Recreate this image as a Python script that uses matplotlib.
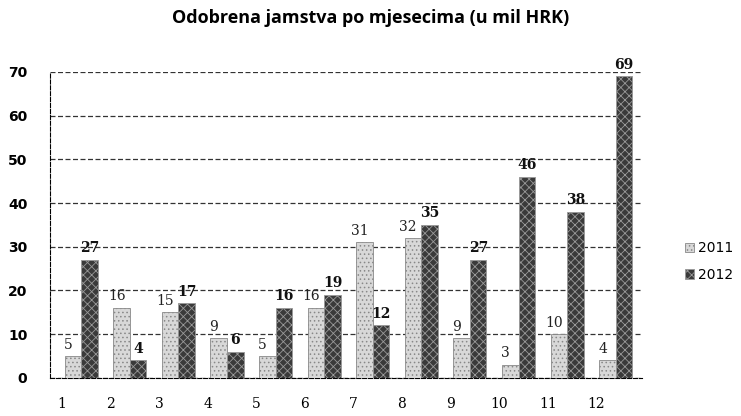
import matplotlib.pyplot as plt
import numpy as np

# monthly approved guarantees (mil HRK)
months = [str(m) for m in range(1, 13)]
v2011 = [5, 16, 15, 9, 5, 16, 31, 32, 9, 3, 10, 4]
v2012 = [27, 4, 17, 6, 16, 19, 12, 35, 27, 46, 38, 69]

plt.rcParams['hatch.linewidth'] = 0.6

fig = plt.figure(figsize=(7.41, 4.16), dpi=100)
ax = fig.add_axes([0.067, 0.092, 0.80, 0.735])

x = np.arange(len(months))
w = 0.34
b1 = ax.bar(x - w / 2 + 0.05, v2011, w, color='#d8d8d8', edgecolor='#888888',
            hatch='....', linewidth=0.6, label='2011', zorder=3)
b2 = ax.bar(x + w / 2 + 0.05, v2012, w, color='#3a3a3a', edgecolor='#999999',
            hatch='xxxx', linewidth=0.6, label='2012', zorder=3)

for xi, v in zip(x, v2011):
    ax.text(xi - w / 2 - 0.05, v + 1, str(v), ha='center', va='bottom',
            fontsize=10, family='DejaVu Serif', color='#222222', zorder=4)
for xi, v in zip(x, v2012):
    ax.text(xi + w / 2 + 0.05, v + 1, str(v), ha='center', va='bottom',
            fontsize=10, family='DejaVu Serif', fontweight='bold', color='#111111', zorder=4)

ax.set_ylim(0, 70)
ax.set_xlim(-0.6, 11.6)
ax.set_yticks(range(0, 71, 10))
ax.set_xticks(x - 0.35)
ax.set_xticklabels(months, family='DejaVu Serif', fontsize=10)
ax.tick_params(axis='x', length=0, pad=14)
ax.tick_params(axis='y', length=0, pad=16, labelsize=10)
for lab in ax.get_yticklabels():
    lab.set_fontweight('bold')

ax.yaxis.grid(True, linestyle=(0, (4, 2)), color='#333333', linewidth=0.9, zorder=0)
for s in ['top', 'right']:
    ax.spines[s].set_visible(False)
ax.spines['left'].set_linestyle('--')
ax.spines['bottom'].set_linestyle('--')

fig.text(0.5, 0.945, 'Odobrena jamstva po mjesecima (u mil HRK)', ha='center',
         fontsize=13, fontweight='bold', family='Open Sans')

ax.legend(loc='center left', bbox_to_anchor=(1.05, 0.38), frameon=False,
          fontsize=10, handlelength=0.7, handleheight=0.7, handletextpad=0.3,
          labelspacing=0.9)

fig.savefig('out.png', dpi=100)
